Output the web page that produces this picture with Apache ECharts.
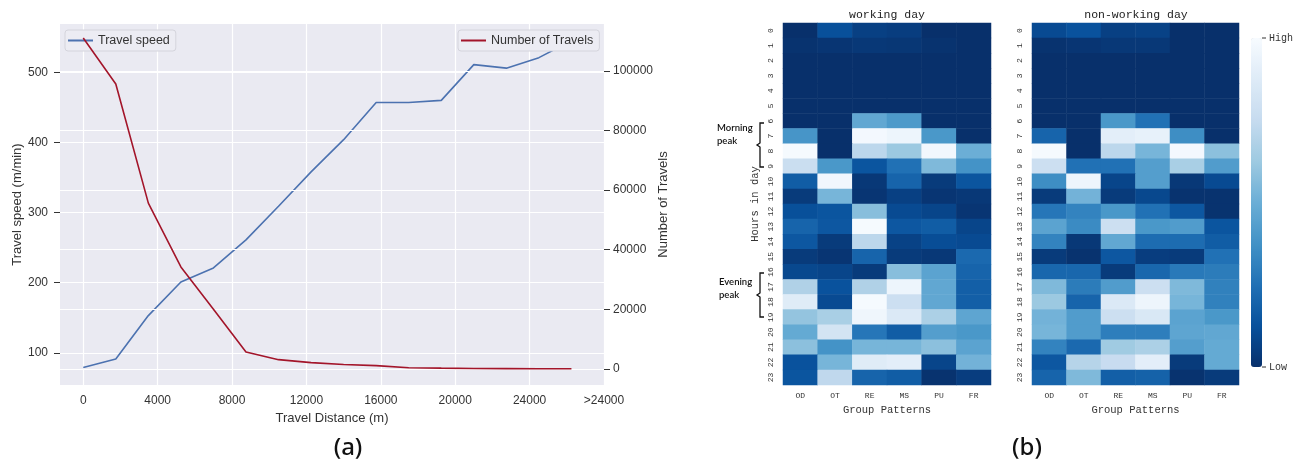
<!DOCTYPE html>
<html>
<head>
<meta charset="utf-8">
<script src="https://cdn.jsdelivr.net/npm/echarts@6/dist/echarts.min.js"></script>
<style>
  html, body { margin: 0; background: #fff; }
  #main { width: 1307px; height: 468px; }
</style>
</head>
<body>
<div id="main"></div>
<script>
// (a) travel speed / number of travels by distance
const distances = [0, 1750, 3500, 5250, 7000, 8750, 10500, 12250, 14000, 15750, 17500, 19250, 21000, 22750, 24500, 26250];
const travelSpeed = [79, 91, 153, 201, 221, 261, 309, 358, 404, 457, 457, 460, 511, 506, 521, 545];
const travelCount = [111000, 95600, 55600, 34200, 20000, 5700, 3100, 2100, 1500, 1100, 400, 250, 150, 100, 60, 30];
const distTicks = [0, 4000, 8000, 12000, 16000, 20000, 24000, 28000];
const distTickLabels = ['0', '4000', '8000', '12000', '16000', '20000', '24000', '>24000'];
const speedTicks = [100, 200, 300, 400, 500];
const countTicks = [0, 20000, 40000, 60000, 80000, 100000];

// (b) heatmaps, rows = hour of day, columns = group pattern (0 = low, 1 = high)
const patterns = ['OD', 'OT', 'RE', 'MS', 'PU', 'FR'];
const hours = ['0','1','2','3','4','5','6','7','8','9','10','11','12','13','14','15','16','17','18','19','20','21','22','23'];
const workingDay = [
  [0.00, 0.12, 0.06, 0.05, 0.00, 0.00],
  [0.01, 0.02, 0.03, 0.025, 0.01, 0.00],
  [0.00, 0.00, 0.00, 0.00, 0.00, 0.00],
  [0.00, 0.00, 0.00, 0.00, 0.00, 0.00],
  [0.00, 0.00, 0.00, 0.00, 0.00, 0.00],
  [0.00, 0.00, 0.00, 0.00, 0.00, 0.00],
  [0.00, 0.00, 0.47, 0.41, 0.00, 0.00],
  [0.39, 0.00, 0.98, 0.95, 0.40, 0.00],
  [0.99, 0.00, 0.72, 0.62, 0.97, 0.50],
  [0.77, 0.40, 0.14, 0.25, 0.55, 0.38],
  [0.17, 0.97, 0.03, 0.20, 0.04, 0.14],
  [0.04, 0.53, 0.02, 0.06, 0.02, 0.03],
  [0.12, 0.14, 0.57, 0.10, 0.08, 0.02],
  [0.20, 0.15, 0.99, 0.15, 0.17, 0.08],
  [0.15, 0.04, 0.72, 0.07, 0.11, 0.10],
  [0.04, 0.02, 0.20, 0.04, 0.03, 0.22],
  [0.09, 0.08, 0.04, 0.57, 0.45, 0.20],
  [0.68, 0.13, 0.68, 0.95, 0.47, 0.18],
  [0.88, 0.10, 0.99, 0.78, 0.47, 0.18],
  [0.60, 0.66, 0.96, 0.86, 0.67, 0.46],
  [0.48, 0.82, 0.27, 0.17, 0.43, 0.40],
  [0.58, 0.38, 0.53, 0.53, 0.58, 0.45],
  [0.13, 0.53, 0.88, 0.90, 0.08, 0.52],
  [0.14, 0.73, 0.20, 0.17, 0.01, 0.05]
];
const nonWorkingDay = [
  [0.10, 0.13, 0.06, 0.07, 0.00, 0.00],
  [0.01, 0.02, 0.03, 0.03, 0.00, 0.00],
  [0.00, 0.00, 0.00, 0.00, 0.00, 0.00],
  [0.00, 0.00, 0.00, 0.00, 0.00, 0.00],
  [0.00, 0.00, 0.00, 0.00, 0.00, 0.00],
  [0.00, 0.00, 0.00, 0.00, 0.00, 0.00],
  [0.00, 0.00, 0.40, 0.25, 0.00, 0.00],
  [0.20, 0.00, 0.90, 0.92, 0.36, 0.00],
  [0.99, 0.00, 0.72, 0.53, 0.98, 0.58],
  [0.78, 0.25, 0.25, 0.43, 0.66, 0.42],
  [0.36, 0.95, 0.08, 0.43, 0.03, 0.10],
  [0.04, 0.52, 0.04, 0.09, 0.01, 0.01],
  [0.27, 0.32, 0.40, 0.25, 0.15, 0.01],
  [0.45, 0.35, 0.78, 0.40, 0.42, 0.14],
  [0.32, 0.03, 0.47, 0.23, 0.23, 0.17],
  [0.04, 0.01, 0.15, 0.05, 0.04, 0.25],
  [0.21, 0.21, 0.04, 0.21, 0.28, 0.29],
  [0.55, 0.29, 0.42, 0.78, 0.55, 0.31],
  [0.62, 0.20, 0.86, 0.95, 0.53, 0.31],
  [0.52, 0.42, 0.78, 0.85, 0.45, 0.40],
  [0.53, 0.42, 0.30, 0.30, 0.46, 0.47],
  [0.32, 0.22, 0.63, 0.67, 0.43, 0.48],
  [0.15, 0.70, 0.76, 0.90, 0.04, 0.48],
  [0.20, 0.55, 0.18, 0.19, 0.01, 0.04]
];
const blues = ['#08306b', '#08519c', '#2171b5', '#4292c6', '#6baed6', '#9ecae1', '#c6dbef', '#deebf7', '#f7fbff'];

const sans = 'Liberation Sans, Arial, sans-serif';
const mono = 'Liberation Mono, DejaVu Sans Mono, monospace';

function toCells(rows) {
  const cells = [];
  rows.forEach((row, h) => row.forEach((v, p) => cells.push([p, h, v])));
  return cells;
}

function heatX(gridIndex) {
  return {
    gridIndex, type: 'category', data: patterns,
    axisLine: { show: false }, axisTick: { show: false }, splitLine: { show: false },
    axisLabel: { fontFamily: mono, fontSize: 8, color: '#333', margin: 7 },
    name: 'Group Patterns', nameLocation: 'middle', nameGap: 19,
    nameTextStyle: { fontFamily: mono, fontSize: 10.5, color: '#333' }
  };
}
function heatY(gridIndex, withName) {
  return {
    gridIndex, type: 'category', data: hours, inverse: true,
    axisLine: { show: false }, axisTick: { show: false }, splitLine: { show: false },
    axisLabel: { fontFamily: mono, fontSize: 8, color: '#333', rotate: 90, margin: 8 },
    name: withName ? 'Hours in day' : '', nameLocation: 'middle', nameGap: 22,
    nameTextStyle: { fontFamily: mono, fontSize: 10.5, color: '#333' }
  };
}

const chart = echarts.init(document.getElementById('main'));
chart.setOption({
  backgroundColor: '#fff',
  animation: false,
  grid: [
    { left: 60, top: 24, width: 544, height: 361, show: true, backgroundColor: '#eaeaf2', borderWidth: 0 },
    { left: 783, top: 23, width: 208, height: 362 },
    { left: 1032, top: 23, width: 207, height: 362 }
  ],
  legend: [
    {
      data: ['Travel speed'], left: 65, top: 30, orient: 'horizontal',
      icon: 'rect', itemWidth: 25, itemHeight: 2, itemGap: 8,
      padding: [4, 6, 4, 3], backgroundColor: '#ececf3', borderColor: '#d4d4dc', borderWidth: 1, borderRadius: 3,
      textStyle: { fontFamily: sans, fontSize: 12.5, color: '#333' }
    },
    {
      data: ['Number of Travels'], left: 458, top: 30, orient: 'horizontal',
      icon: 'rect', itemWidth: 25, itemHeight: 2, itemGap: 8,
      padding: [4, 6, 4, 3], backgroundColor: '#ececf3', borderColor: '#d4d4dc', borderWidth: 1, borderRadius: 3,
      textStyle: { fontFamily: sans, fontSize: 12.5, color: '#333' }
    }
  ],
  xAxis: [
    {
      gridIndex: 0, type: 'value', min: -1250, max: 28000,
      axisLine: { show: false, onZero: false },
      axisTick: { show: false, customValues: distTicks },
      axisLabel: {
        customValues: distTicks, margin: 10, fontFamily: sans, fontSize: 12, color: '#333',
        formatter: v => distTickLabels[distTicks.indexOf(v)]
      },
      splitLine: { show: true, lineStyle: { color: '#fff', width: 1.2 } },
      name: 'Travel Distance (m)', nameLocation: 'middle', nameGap: 25,
      nameTextStyle: { fontFamily: sans, fontSize: 13, color: '#333' }
    },
    heatX(1),
    heatX(2)
  ],
  yAxis: [
    {
      gridIndex: 0, type: 'value', position: 'left', min: 54, max: 569,
      axisLine: { show: false, onZero: false },
      axisTick: { show: true, length: 6, lineStyle: { color: '#333' }, customValues: speedTicks },
      axisLabel: { customValues: speedTicks, margin: 12, fontFamily: sans, fontSize: 12, color: '#333' },
      splitLine: { show: true, lineStyle: { color: '#fff', width: 1.2 } },
      name: 'Travel speed (m/min)', nameLocation: 'middle', nameGap: 36,
      nameTextStyle: { fontFamily: sans, fontSize: 13, color: '#333' }
    },
    {
      gridIndex: 0, type: 'value', position: 'right', min: -5400, max: 115700, z: 3,
      axisLine: { show: false, onZero: false },
      axisTick: { show: true, length: 6, lineStyle: { color: '#333' }, customValues: countTicks },
      axisLabel: { customValues: countTicks, margin: 9, fontFamily: sans, fontSize: 12, color: '#333', formatter: v => String(v) },
      splitLine: { show: true, lineStyle: { color: '#fff', width: 1.2 } },
      name: 'Number of Travels', nameLocation: 'middle', nameGap: 52,
      nameTextStyle: { fontFamily: sans, fontSize: 13, color: '#333' }
    },
    heatY(1, true),
    heatY(2, false)
  ],
  visualMap: {
    type: 'continuous', min: 0, max: 1, seriesIndex: [2, 3],
    left: 1251, top: 38, itemWidth: 11, itemHeight: 329, padding: 0,
    calculable: false, hoverLink: false,
    inRange: { color: blues }
  },
  series: [
    {
      name: 'Travel speed', type: 'line', xAxisIndex: 0, yAxisIndex: 0, z: 2,
      data: distances.map((d, i) => [d, travelSpeed[i]]),
      symbol: 'none', lineStyle: { color: '#4c72b0', width: 1.6 }, itemStyle: { color: '#4c72b0' }
    },
    {
      name: 'Number of Travels', type: 'line', xAxisIndex: 0, yAxisIndex: 1, z: 4,
      data: distances.map((d, i) => [d, travelCount[i]]),
      symbol: 'none', lineStyle: { color: '#a3152a', width: 1.6 }, itemStyle: { color: '#a3152a' }
    },
    {
      type: 'heatmap', xAxisIndex: 1, yAxisIndex: 2, data: toCells(workingDay),
      itemStyle: { borderWidth: 0 }, emphasis: { disabled: true }
    },
    {
      type: 'heatmap', xAxisIndex: 2, yAxisIndex: 3, data: toCells(nonWorkingDay),
      itemStyle: { borderWidth: 0 }, emphasis: { disabled: true }
    }
  ],
  graphic: [
    { type: 'text', x: 887, y: 15, style: { text: 'working day', font: '11.5px ' + mono, fill: '#222', align: 'center', verticalAlign: 'middle' } },
    { type: 'text', x: 1136, y: 15, style: { text: 'non-working day', font: '11.5px ' + mono, fill: '#222', align: 'center', verticalAlign: 'middle' } },
    { type: 'text', x: 717, y: 134, style: { text: 'Morning\npeak', font: '600 9.5px Lato, sans-serif', fill: '#111', align: 'left', verticalAlign: 'middle', lineHeight: 13 } },
    { type: 'text', x: 719, y: 288, style: { text: 'Evening\npeak', font: '600 9.5px Lato, sans-serif', fill: '#111', align: 'left', verticalAlign: 'middle', lineHeight: 13 } },
    { type: 'polyline', shape: { points: [[764, 123], [760, 123], [760, 143], [757, 145], [760, 147], [760, 167], [764, 167]] }, style: { stroke: '#111', lineWidth: 1.3, fill: null } },
    { type: 'polyline', shape: { points: [[764, 273], [760, 273], [760, 293], [757, 295], [760, 297], [760, 317], [764, 317]] }, style: { stroke: '#111', lineWidth: 1.3, fill: null } },
    { type: 'line', shape: { x1: 1262, y1: 38, x2: 1266, y2: 38 }, style: { stroke: '#333', lineWidth: 1 } },
    { type: 'line', shape: { x1: 1262, y1: 367, x2: 1266, y2: 367 }, style: { stroke: '#333', lineWidth: 1 } },
    { type: 'text', x: 1269, y: 38, style: { text: 'High', font: '10px ' + mono, fill: '#333', align: 'left', verticalAlign: 'middle' } },
    { type: 'text', x: 1269, y: 367, style: { text: 'Low', font: '10px ' + mono, fill: '#333', align: 'left', verticalAlign: 'middle' } },
    { type: 'text', x: 348, y: 448, style: { text: '(a)', font: '500 24px Noto Sans, sans-serif', fill: '#111', align: 'center', verticalAlign: 'middle' } },
    { type: 'text', x: 1027, y: 448, style: { text: '(b)', font: '500 24px Noto Sans, sans-serif', fill: '#111', align: 'center', verticalAlign: 'middle' } }
  ]
});
</script>
</body>
</html>
